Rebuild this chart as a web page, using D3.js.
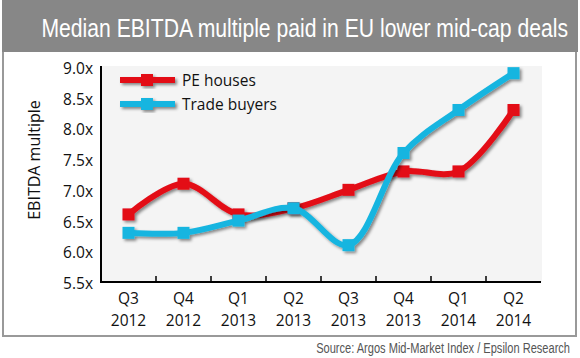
<!DOCTYPE html>
<html><head><meta charset="utf-8">
<script src="https://cdn.jsdelivr.net/npm/d3@7"></script>
<style>body{margin:0;background:#fff}svg{display:block}</style>
</head><body>
<script>
const categories = [["Q3","2012"],["Q4","2012"],["Q1","2013"],["Q2","2013"],["Q3","2013"],["Q4","2013"],["Q1","2014"],["Q2","2014"]];
const peHouses = [6.6, 7.1, 6.6, 6.7, 7.0, 7.3, 7.3, 8.3];
const tradeBuyers = [6.3, 6.3, 6.5, 6.7, 6.1, 7.6, 8.3, 8.9];
const yTicks = [5.5, 6.0, 6.5, 7.0, 7.5, 8.0, 8.5, 9.0];
const seriesNames = ["PE houses", "Trade buyers"];
const colors = ["#e30a17", "#17b5e0"];

const W = 580, H = 358;
const svg = d3.select("body").append("svg").attr("width", W).attr("height", H);
const defs = svg.append("defs");
const f = defs.append("filter").attr("id","sh").attr("x","-20%").attr("y","-20%").attr("width","140%").attr("height","140%");
f.append("feDropShadow").attr("dx",2).attr("dy",2).attr("stdDeviation",1.5).attr("flood-color","#000").attr("flood-opacity",0.45);

const condFont = "'Liberation Sans','Arial',sans-serif";
function condensed(sel, right, baseline, width){
  const w = sel.node().getComputedTextLength();
  sel.attr("text-anchor","end").attr("transform",`translate(${right},${baseline}) scale(${width/w},1)`);
}
// frame
svg.append("rect").attr("x",3).attr("y",1).attr("width",573).attr("height",335).attr("fill","#fff").attr("stroke","#999").attr("stroke-width",2);
svg.append("rect").attr("x",2).attr("y",0).attr("width",576).attr("height",52).attr("fill","#878787");
const title = svg.append("text").attr("font-family",condFont)
  .attr("font-size",26).attr("fill","#fff").text("Median EBITDA multiple paid in EU lower mid-cap deals");
condensed(title, 568, 37, 527);

const x = d3.scaleBand().domain(d3.range(categories.length)).range([101,541]);
const y = d3.scaleLinear().domain([5.5,9.0]).range([282,67]);

svg.append("rect").attr("x",101).attr("y",66).attr("width",441).attr("height",216).attr("fill","#f4f4f4");

const font = "'Open Sans','Noto Sans',sans-serif";
// y axis
const ya = svg.append("g");
ya.append("line").attr("x1",101).attr("x2",101).attr("y1",66).attr("y2",282).attr("stroke","#000").attr("stroke-width",2);
ya.selectAll("text").data(yTicks).join("text")
  .attr("x",93).attr("y",d=>y(d)+7).attr("text-anchor","end")
  .attr("font-family",font).attr("font-size",15.5).attr("fill","#111")
  .text(d=>d.toFixed(1)+"x");
svg.append("text").attr("transform","translate(40,160) rotate(-90)").attr("text-anchor","middle")
  .attr("font-family",font).attr("font-size",16).attr("fill","#111").text("EBITDA multiple");

// x axis
const xa = svg.append("g");
xa.append("line").attr("x1",100).attr("x2",541).attr("y1",282).attr("y2",282).attr("stroke","#000").attr("stroke-width",2);
xa.selectAll("line.t").data(d3.range(1,categories.length)).join("line").attr("class","t")
  .attr("x1",d=>x(d)).attr("x2",d=>x(d)).attr("y1",276).attr("y2",282).attr("stroke","#000").attr("stroke-width",1.5);
const xl = xa.selectAll("text").data(categories).join("text")
  .attr("text-anchor","middle").attr("font-family",font).attr("font-size",15.5).attr("fill","#111");
xl.append("tspan").attr("x",(d,i)=>x(i)+x.bandwidth()/2).attr("y",304).text(d=>d[0]);
xl.append("tspan").attr("x",(d,i)=>x(i)+x.bandwidth()/2).attr("y",326).text(d=>d[1]);

// lines
const line = d3.line().x((d,i)=>x(i)+x.bandwidth()/2).y(d=>y(d)).curve(d3.curveCatmullRom.alpha(0.5));
[peHouses, tradeBuyers].forEach((s,k)=>{
  const g = svg.append("g").attr("filter","url(#sh)");
  g.append("path").attr("d",line(s)).attr("fill","none").attr("stroke",colors[k]).attr("stroke-width",6).attr("stroke-linejoin","round");
  g.selectAll("rect").data(s).join("rect")
    .attr("x",(d,i)=>x(i)+x.bandwidth()/2-6).attr("y",d=>y(d)-6).attr("width",12).attr("height",12).attr("fill",colors[k]);
});

// legend
seriesNames.forEach((n,k)=>{
  const ly = 80 + k*24;
  const g = svg.append("g").attr("filter","url(#sh)");
  g.append("line").attr("x1",120).attr("x2",175).attr("y1",ly).attr("y2",ly).attr("stroke",colors[k]).attr("stroke-width",6);
  g.append("rect").attr("x",141).attr("y",ly-6).attr("width",12).attr("height",12).attr("fill",colors[k]);
  svg.append("text").attr("x",182).attr("y",ly+6).attr("font-family",font).attr("font-size",15.5).attr("fill","#111").text(n);
});

const src = svg.append("text").attr("font-family",condFont)
  .attr("font-size",15).attr("fill","#555").text("Source: Argos Mid-Market Index / Epsilon Research");
condensed(src, 570, 353, 254);
</script>
</body></html>
